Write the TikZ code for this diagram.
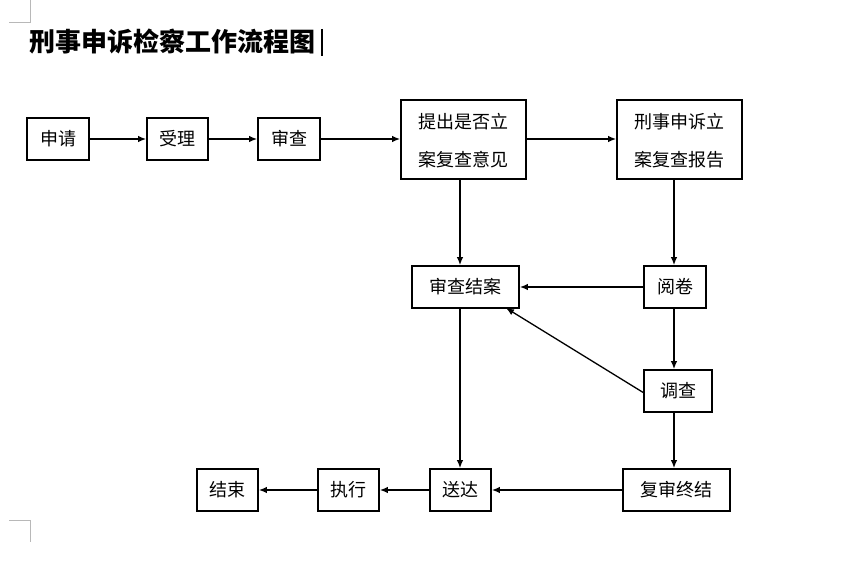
\documentclass[tikz,border=0pt]{standalone}
\usepackage{fontspec}
\setmainfont{Noto Sans CJK SC}
\usetikzlibrary{arrows.meta}
\begin{document}
\begin{tikzpicture}[x=1pt,y=-1pt,
  box/.style={draw,line width=1.8pt,inner sep=0pt,align=center,
    font=\fontsize{18}{38}\selectfont},
  sbox/.style={box,minimum height=42pt},
  bbox/.style={box,minimum height=79pt,minimum width=125pt},
  arr/.style={line width=1.3pt,-{Latex[length=8pt,width=6.5pt]}},
  corner/.style={draw=black!28,line width=0.8pt}]
\useasboundingbox (0,0) rectangle (856,585);
% page corner marks
\draw[corner] (9,22) -- (30,22) -- (30,0);
\draw[corner] (9,520) -- (30,520) -- (30,542);
% title
\node[anchor=west,inner sep=0pt,font=\fontsize{26}{30}\selectfont\bfseries] (title) at (29,42) {刑事申诉检察工作流程图};
\coordinate (curtop) at (322,29);
\coordinate (curbot) at (322,56);
\draw[line width=1.5pt] (curtop) -- (curbot);
% nodes
\node[sbox,minimum width=62pt] (sq) at (58,139) {申请};
\node[sbox,minimum width=61pt] (sl) at (177.5,139) {受理};
\node[sbox,minimum width=62pt] (sc) at (289,139) {审查};
\node[bbox] (tc) at (463.5,139.5) {\raisebox{-6pt}{\begin{tabular}{@{}c@{}}提出是否立\\案复查意见\end{tabular}}};
\node[bbox] (xs) at (679.5,139.5) {\raisebox{-6pt}{\begin{tabular}{@{}c@{}}刑事申诉立\\案复查报告\end{tabular}}};
\node[sbox,minimum width=107pt] (ja) at (465.5,287) {审查结案};
\node[sbox,minimum width=62pt] (yj) at (675,287) {阅卷};
\node[sbox,minimum width=68pt] (dc) at (678,391) {调查};
\node[sbox,minimum width=107pt] (zj) at (676.5,490) {复审终结};
\node[sbox,minimum width=61pt] (sd) at (460.5,490) {送达};
\node[sbox,minimum width=61pt] (zx) at (348.5,490) {执行};
\node[sbox,minimum width=61pt] (js) at (227.5,490) {结束};
% guide coordinates
\coordinate (cl) at (460,0);
\coordinate (cr) at (674,0);
\coordinate (dcs) at (644,393);
\coordinate (jab) at (506,308);
% connectors
\draw[arr] (sq) -- (sl);
\draw[arr] (sl) -- (sc);
\draw[arr] (sc) -- (tc.west |- sc);
\draw[arr] (tc.east |- sc) -- (xs.west |- sc);
\draw[arr] (tc.south -| cl) -- (ja.north -| cl);
\draw[arr] (xs.south -| cr) -- (yj.north -| cr);
\draw[arr] (yj) -- (ja);
\draw[arr] (yj.south -| cr) -- (dc.north -| cr);
\draw[arr] (dcs) -- (jab);
\draw[arr] (dc.south -| cr) -- (zj.north -| cr);
\draw[arr] (ja.south -| cl) -- (sd.north -| cl);
\draw[arr] (zj) -- (sd);
\draw[arr] (sd) -- (zx);
\draw[arr] (zx) -- (js);
\end{tikzpicture}
\end{document}
